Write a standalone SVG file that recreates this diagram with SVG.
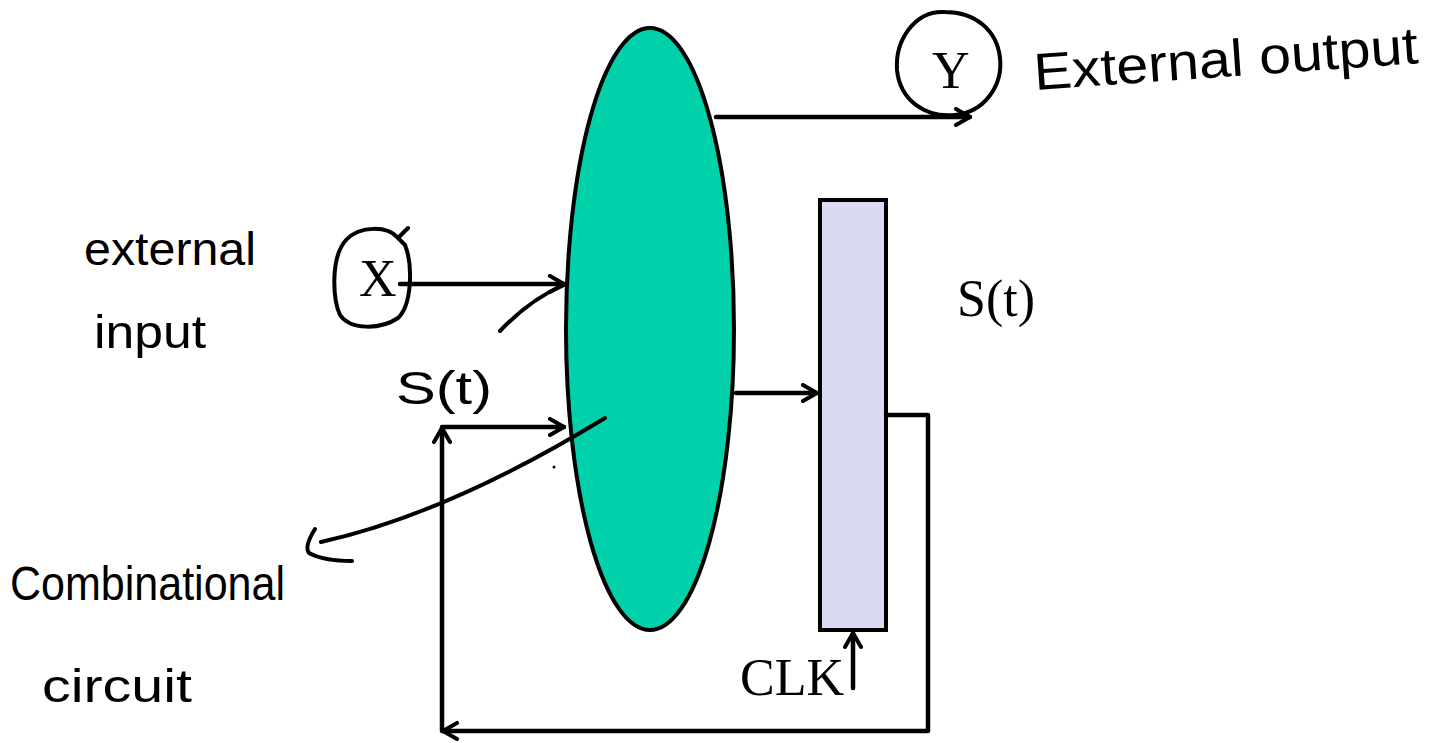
<svg xmlns="http://www.w3.org/2000/svg" width="1453" height="743" viewBox="0 0 1453 743">
<style>
.ln{fill:none;stroke:#000;stroke-width:4.5;stroke-linecap:round;stroke-linejoin:round}
.hand{fill:none;stroke:#000;stroke-width:4;stroke-linecap:round;stroke-linejoin:round}
.tnr{font-family:"Liberation Serif",serif;font-size:52px;fill:#000}
.hw{font-family:"Liberation Sans","DejaVu Sans",sans-serif;fill:#000;font-weight:normal}
</style>
<defs>
<marker id="ah2" viewBox="0 0 20 20" refX="18" refY="10" markerWidth="20" markerHeight="20" markerUnits="userSpaceOnUse" orient="auto">
<path d="M4,2 L18,10 L4,18" fill="none" stroke="#000" stroke-width="4" stroke-linecap="round" stroke-linejoin="round"/>
</marker>
</defs>
<rect width="1453" height="743" fill="#fff"/>

<g id="combinational">
<ellipse cx="650" cy="329" rx="84" ry="301" fill="#00D1AA" stroke="#000" stroke-width="4"/>
</g>
<g id="register">
<rect x="820" y="200" width="66" height="430" fill="#DADAF5" stroke="#000" stroke-width="4"/>
</g>

<g id="connectors">
<line class="ln" x1="716" y1="117" x2="970" y2="117" marker-end="url(#ah2)"/>
<line class="ln" x1="400" y1="284" x2="564" y2="284" marker-end="url(#ah2)"/>
<line class="ln" x1="736" y1="393" x2="817" y2="393" marker-end="url(#ah2)"/>
<polyline class="ln" points="886,415 928,415 928,731 443,731" marker-end="url(#ah2)"/>
<line class="ln" x1="442" y1="731" x2="442" y2="428" marker-end="url(#ah2)"/>
<line class="ln" x1="442" y1="427" x2="564" y2="427" marker-end="url(#ah2)"/>
<line class="ln" x1="853" y1="688" x2="853" y2="633" marker-end="url(#ah2)"/>
</g>

<g id="labels">
<text class="tnr" x="359" y="296" font-size="50">X</text>
<text class="tnr" x="932" y="88" font-size="50">Y</text>
<text class="tnr" x="957" y="316" font-size="53">S(t)</text>
<text class="tnr" x="740" y="695">CLK</text>
</g>

<g id="annotations">
<path class="hand" d="M398,238 C388,226 360,225 346,240 C330,258 333,300 340,315 C350,330 380,330 398,318 C412,305 413,265 405,245 L398,238 L408,228"/>
<path class="hand" d="M945,12 C915,10 895,40 897,70 C900,100 925,118 955,115 C985,112 1003,85 1000,58 C997,30 975,12 945,12"/>
<path class="hand" d="M500,331 C520,310 540,295 564,285"/>
<path class="hand" d="M605,418 C520,470 420,520 321,542"/>
<path class="hand" d="M315,529 C310,537 305,548 309,553 C320,559 338,561 352,561"/>
<circle cx="554" cy="467" r="1.5" fill="#000"/>
<text class="hw" x="84" y="265" font-size="46" textLength="172" lengthAdjust="spacingAndGlyphs">external</text>
<text class="hw" x="94" y="348" font-size="46" textLength="112" lengthAdjust="spacingAndGlyphs">input</text>
<text class="hw" x="396" y="404" font-size="46" textLength="96" lengthAdjust="spacingAndGlyphs">S(t)</text>
<text class="hw" x="10" y="600" font-size="48" textLength="275" lengthAdjust="spacingAndGlyphs">Combinational</text>
<text class="hw" x="42" y="702" font-size="46" textLength="150" lengthAdjust="spacingAndGlyphs">circuit</text>
<text class="hw" x="1035" y="90" font-size="52" textLength="385" lengthAdjust="spacingAndGlyphs" transform="rotate(-4 1035 90)">External output</text>
</g>
</svg>
